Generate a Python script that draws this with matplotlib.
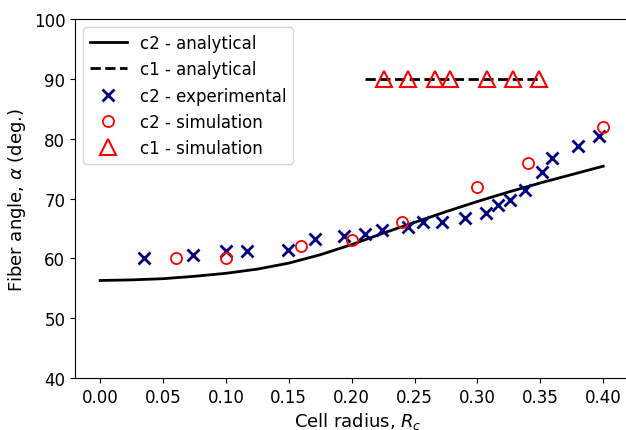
import matplotlib
matplotlib.use("Agg")
import matplotlib.pyplot as plt
import numpy as np

# c2 analytical curve
r_c2 = [0, 0.025, 0.05, 0.075, 0.10, 0.125, 0.15, 0.175, 0.20, 0.225,
        0.25, 0.275, 0.30, 0.325, 0.35, 0.375, 0.40]
a_c2 = [56.3, 56.4, 56.6, 57.0, 57.5, 58.2, 59.2, 60.6, 62.3, 64.2,
        66.0, 67.8, 69.5, 71.1, 72.6, 74.0, 75.4]

# c1 analytical (flat line)
r_c1 = [0.211, 0.351]
a_c1 = [90, 90]

# c2 experimental
r_exp = [0.035, 0.074, 0.100, 0.117, 0.149, 0.171, 0.194, 0.211, 0.224,
         0.245, 0.257, 0.272, 0.290, 0.307, 0.316, 0.326, 0.338, 0.351,
         0.359, 0.380, 0.397]
a_exp = [60.1, 60.6, 61.3, 61.2, 61.4, 63.2, 63.8, 64.1, 64.8,
         65.3, 66.0, 66.0, 66.8, 67.6, 68.9, 69.8, 71.4, 74.5,
         76.8, 78.8, 80.5]

# c2 simulation
r_sim2 = [0.06, 0.10, 0.16, 0.20, 0.24, 0.30, 0.34, 0.40]
a_sim2 = [60, 60, 62, 63, 66, 72, 76, 82]

# c1 simulation
r_sim1 = [0.226, 0.245, 0.266, 0.278, 0.308, 0.328, 0.349]
a_sim1 = [90, 90, 90, 90, 90, 90, 90]

fig = plt.figure(figsize=(6.26, 4.31), dpi=100)
# the reference is cropped: right spine sits past the image edge
ax = fig.add_axes([0.1198, 0.1206, 0.9026, 0.833])

ax.plot(r_c2, a_c2, color='black', lw=2, label='c2 - analytical')
ax.plot(r_c1, a_c1, color='black', lw=2, ls='--', label='c1 - analytical')
ax.plot(r_exp, a_exp, ls='none', marker='x', color='navy', ms=8, mew=2,
        label='c2 - experimental')
ax.plot(r_sim2, a_sim2, ls='none', marker='o', mfc='none', mec='red', ms=8,
        mew=1.3, label='c2 - simulation')
ax.plot(r_sim1, a_sim1, ls='none', marker='^', mfc='none', mec='red', ms=11,
        mew=1.5, label='c1 - simulation')

ax.set_xlim(-0.02, 0.4293)
ax.set_ylim(40, 100)
ax.set_xticks(np.arange(0, 0.41, 0.05))
ax.set_xticklabels(['%.2f' % v for v in np.arange(0, 0.41, 0.05)])
ax.tick_params(labelsize=12)
ax.set_xlabel('Cell radius, $R_c$', fontsize=13, labelpad=3)
ax.set_ylabel(r'Fiber angle, $\alpha$ (deg.)', fontsize=13)
ax.legend(loc='upper left', fontsize=12, handlelength=2.2)

fig.savefig('out.png', dpi=100)
